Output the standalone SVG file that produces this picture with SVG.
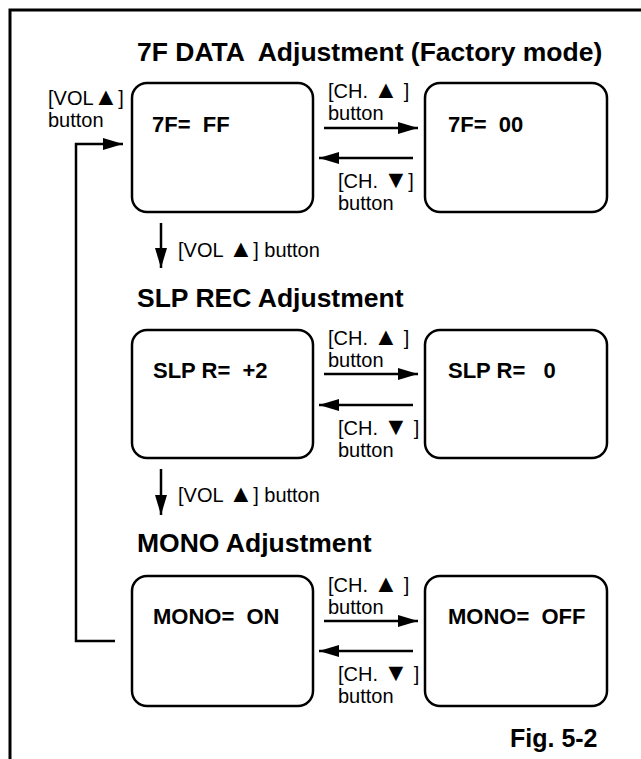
<svg xmlns="http://www.w3.org/2000/svg" width="641" height="759" viewBox="0 0 641 759">
<style>
  .frame{fill:none;stroke:#000;stroke-width:3}
  .box{fill:#fff;stroke:#000;stroke-width:2.5}
  .line{fill:none;stroke:#000;stroke-width:2.5}
  .title{font-family:"Liberation Sans",Arial,Helvetica,sans-serif;font-weight:bold;font-size:26.5px;fill:#000}
  .val{font-family:"Liberation Sans",Arial,Helvetica,sans-serif;font-weight:bold;font-size:22px;fill:#000;white-space:pre}
  .lbl{font-family:"Liberation Sans",Arial,Helvetica,sans-serif;font-size:20px;fill:#000;white-space:pre}
  .tri{font-size:25px}
  .fig{font-family:"Liberation Sans",Arial,Helvetica,sans-serif;font-weight:bold;font-size:25px;fill:#000}
</style>
<defs>
  <marker id="ah" viewBox="0 0 20 12" refX="20" refY="6" markerWidth="20" markerHeight="12" markerUnits="userSpaceOnUse" orient="auto">
    <path d="M0,0 L20,6 L0,12 Z" fill="#000"/>
  </marker>
</defs>
<rect width="641" height="759" fill="#fff"/>
<path class="frame" d="M10,759 L10,10 L641,10"/>

<g id="titles">
  <text class="title" x="137" y="61" xml:space="preserve">7F DATA  Adjustment (Factory mode)</text>
  <text class="title" x="137" y="307">SLP REC Adjustment</text>
  <text class="title" x="137" y="552">MONO Adjustment</text>
  <text class="fig" x="510" y="747">Fig. 5-2</text>
</g>

<g id="node-7f-ff">
  <rect class="box" x="132" y="83" width="181" height="129" rx="15"/>
  <text class="val" x="152" y="132" xml:space="preserve">7F=  FF</text>
</g>
<g id="node-7f-00">
  <rect class="box" x="425" y="83" width="182" height="129" rx="15"/>
  <text class="val" x="448" y="132" xml:space="preserve">7F=  00</text>
</g>
<g id="node-slp-2">
  <rect class="box" x="132" y="330" width="181" height="128" rx="15"/>
  <text class="val" x="153" y="378" xml:space="preserve">SLP R=  +2</text>
</g>
<g id="node-slp-0">
  <rect class="box" x="425" y="330" width="182" height="128" rx="15"/>
  <text class="val" x="448" y="378" xml:space="preserve">SLP R=   0</text>
</g>
<g id="node-mono-on">
  <rect class="box" x="132" y="576" width="181" height="130" rx="15"/>
  <text class="val" x="153" y="624" xml:space="preserve">MONO=  ON</text>
</g>
<g id="node-mono-off">
  <rect class="box" x="425" y="576" width="182" height="130" rx="15"/>
  <text class="val" x="448" y="624" xml:space="preserve">MONO=  OFF</text>
</g>

<g id="connectors">
  <line class="line" x1="324" y1="128" x2="418" y2="128" marker-end="url(#ah)"/>
  <line class="line" x1="413" y1="158" x2="319" y2="158" marker-end="url(#ah)"/>
  <line class="line" x1="324" y1="374" x2="418" y2="374" marker-end="url(#ah)"/>
  <line class="line" x1="413" y1="405" x2="319" y2="405" marker-end="url(#ah)"/>
  <line class="line" x1="324" y1="621" x2="418" y2="621" marker-end="url(#ah)"/>
  <line class="line" x1="413" y1="651" x2="319" y2="651" marker-end="url(#ah)"/>
  <line class="line" x1="161" y1="223" x2="161" y2="268" marker-end="url(#ah)"/>
  <line class="line" x1="161" y1="469" x2="161" y2="515" marker-end="url(#ah)"/>
  <polyline class="line" points="115,641 76,641 76,144 123,144" marker-end="url(#ah)"/>
</g>

<g id="labels">
  <text class="lbl" x="48" y="105">[VOL<tspan class="tri">▲</tspan>]</text>
  <text class="lbl" x="48" y="127">button</text>
  <text class="lbl" x="178" y="257">[VOL <tspan class="tri">▲</tspan>] button</text>
  <text class="lbl" x="178" y="502">[VOL <tspan class="tri">▲</tspan>] button</text>

  <text class="lbl" x="328" y="98">[CH. <tspan class="tri">▲</tspan> ]</text>
  <text class="lbl" x="328" y="120">button</text>
  <text class="lbl" x="338" y="188">[CH. <tspan class="tri">▼</tspan>]</text>
  <text class="lbl" x="338" y="210">button</text>

  <text class="lbl" x="328" y="345">[CH. <tspan class="tri">▲</tspan> ]</text>
  <text class="lbl" x="328" y="367">button</text>
  <text class="lbl" x="338" y="435">[CH. <tspan class="tri">▼</tspan> ]</text>
  <text class="lbl" x="338" y="457">button</text>

  <text class="lbl" x="328" y="592">[CH. <tspan class="tri">▲</tspan> ]</text>
  <text class="lbl" x="328" y="614">button</text>
  <text class="lbl" x="338" y="681">[CH. <tspan class="tri">▼</tspan> ]</text>
  <text class="lbl" x="338" y="703">button</text>
</g>
</svg>
